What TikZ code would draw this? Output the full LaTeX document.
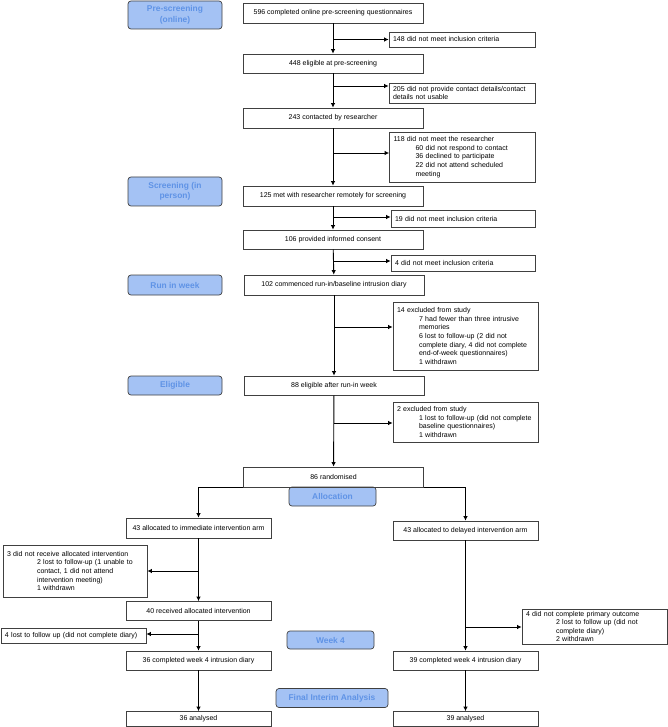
\documentclass[tikz,border=0pt]{standalone}
\usepackage{fontspec}
\setmainfont{Liberation Sans}
\usetikzlibrary{positioning,calc,arrows.meta}
\definecolor{stagefill}{HTML}{A4C2F4}
\definecolor{stagetext}{HTML}{5F93E6}
\definecolor{boxline}{HTML}{404040}
\tikzset{flowbox/.style={draw=boxline,line width=0.7pt,minimum width=180pt,minimum height=20pt,inner sep=0pt,font=\fontsize{7}{8.6}\selectfont}  }
\tikzset{sidebox/.style={draw=boxline,line width=0.7pt,inner xsep=4pt,inner ysep=2pt,align=left,font=\fontsize{7}{8.6}\selectfont}  }
\tikzset{stage/.style={draw=boxline,fill=stagefill,rounded corners=3pt,line width=0.7pt,minimum width=94pt,inner sep=0pt,align=center,text=stagetext,font=\fontsize{8.4}{10.4}\selectfont\bfseries}  }
\tikzset{>={Latex[length=4.5pt,width=4.5pt]}}
\newcommand{\ind}{\hspace*{22pt}}
\newcommand{\indb}{\hspace*{30pt}}

\begin{document}
\begin{tikzpicture}[x=1pt,y=-1pt,line width=0.9pt]
	\useasboundingbox (0,0) rectangle (667,727);

		\node[stage,minimum height=28pt] (pre) at (175,15) {Pre-screening\\(online)};
		\node[stage,minimum height=29pt] (scr) at (175,191.5) {Screening (in\\person)};
		\node[stage,minimum height=20pt] (run) at (175,285) {Run in week};
		\node[stage,minimum height=19pt] (elig) at (175,385.5) {Eligible};
		\node[stage,minimum width=87pt,minimum height=19pt] (alloc) at (332.5,496.5) {Allocation};
		\node[stage,minimum width=87pt,minimum height=18pt] (wk) at (330.5,640) {Week 4};
		\node[stage,minimum width=112pt,minimum height=19pt] (fin) at (332,698) {Final Interim Analysis};

		\node[flowbox] (q596) at (333,13) {596 completed online pre-screening questionnaires};
		\node[flowbox,minimum height=19pt] (e448) at (333,63.5) {448 eligible at pre-screening};
		\node[flowbox] (c243) at (333,118) {243 contacted by researcher};
		\node[flowbox] (m125) at (333,196) {125 met with researcher remotely for screening};
		\node[flowbox,minimum height=19pt] (i106) at (333,239.5) {106 provided informed consent};
		\node[flowbox] (r102) at (334,285) {102 commenced run-in/baseline intrusion diary};
		\node[flowbox,minimum height=19pt] (e88) at (334,385.5) {88 eligible after run-in week};
		\node[flowbox] (r86) at (333.5,477) {86 randomised};

		\node[sidebox,text width=138pt,minimum height=15pt] (x148) at (462,39.5) {148 did not meet inclusion criteria};
		\node[sidebox,text width=138pt,minimum height=20pt] (x205) at (462,93) {205 did not provide contact details/contact\\details not usable};
		\node[sidebox,text width=138pt,minimum height=50pt] (x118) at (462.5,157) {118 did not meet the researcher\\\ind 60 did not respond to contact\\\ind 36 declined to participate\\\ind 22 did not attend scheduled\\\ind meeting};
		\node[sidebox,text width=136pt,minimum height=17pt] (x19) at (463,218.5) {19 did not meet inclusion criteria};
		\node[sidebox,text width=136pt,minimum height=16pt] (x4) at (463,263) {4 did not meet inclusion criteria};
		\node[sidebox,text width=137pt,minimum height=68pt] (x14) at (465.5,336) {14 excluded from study\\\ind 7 had fewer than three intrusive\\\ind memories\\\ind 6 lost to follow-up (2 did not\\\ind complete diary, 4 did not complete\\\ind end-of-week questionnaires)\\\ind 1 withdrawn};
		\node[sidebox,text width=137pt,minimum height=40pt] (x2) at (465.5,422) {2 excluded from study\\\ind 1 lost to follow-up (did not complete\\\ind baseline questionnaires)\\\ind 1 withdrawn};

		\node[flowbox,minimum width=145pt] (a43) at (198.5,528) {43 allocated to immediate intervention arm};
		\node[flowbox,minimum width=145pt,minimum height=19pt] (a40) at (198.5,611) {40 received allocated intervention};
		\node[flowbox,minimum width=145pt,minimum height=19pt] (a36c) at (198.5,660.5) {36 completed week 4 intrusion diary};
		\node[flowbox,minimum width=145pt,minimum height=15pt] (a36) at (198.5,719) {36 analysed};

		\node[flowbox,minimum width=145pt,minimum height=19pt] (b43) at (465.5,530.5) {43 allocated to delayed intervention arm};
		\node[flowbox,minimum width=145pt,minimum height=19pt] (b39c) at (465.5,660.5) {39 completed week 4 intrusion diary};
		\node[flowbox,minimum width=145pt,minimum height=15pt] (b39) at (465.5,719) {39 analysed};

		\node[sidebox,text width=136pt,minimum height=52pt] (y3) at (75,571) {3 did not receive allocated intervention\\\indb 2 lost to follow-up (1 unable to\\\indb contact, 1 did not attend\\\indb intervention meeting)\\\indb 1 withdrawn};
		\node[sidebox,text width=137pt,minimum height=15pt] (y4) at (73.5,635.5) {4 lost to follow up (did not complete diary)};
		\node[sidebox,text width=137pt,minimum height=33pt] (z4) at (594.5,626.5) {4 did not complete primary outcome\\\indb 2 lost to follow up (did not\\\indb complete diary)\\\indb 2 withdrawn};

		\coordinate (j148) at (333,39.5);
		\coordinate (j205) at (333,86);
		\coordinate (j118) at (333,153);
		\coordinate (j19) at (333,217);
		\coordinate (j4) at (333,261);
		\coordinate (j14) at (334,327);
		\coordinate (j2) at (334,423);
		\coordinate (jy3) at (198.5,571);
		\coordinate (jy4) at (198.5,634);
		\coordinate (jz4) at (465.5,627);

		\draw[->] (q596) -- (e448);
		\draw[->] (e448) -- (c243);
		\draw[->] (c243) -- (m125);
		\draw[->] (m125) -- (i106);
		\draw[->] (i106) -- (r102);
		\draw[->] (r102) -- (e88);
		\draw[->] (e88) -- (r86);
		\draw[->] (r86.south west) -| (a43);
		\draw[->] (r86.south east) -| (b43);
		\draw[->] (a43) -- (a40);
		\draw[->] (a40) -- (a36c);
		\draw[->] (a36c) -- (a36);
		\draw[->] (b43) -- (b39c);
		\draw[->] (b39c) -- (b39);

		\draw[->] (j148) -- (j148 -| x148.west);
		\draw[->] (j205) -- (j205 -| x205.west);
		\draw[->] (j118) -- (j118 -| x118.west);
		\draw[->] (j19) -- (j19 -| x19.west);
		\draw[->] (j4) -- (j4 -| x4.west);
		\draw[->] (j14) -- (j14 -| x14.west);
		\draw[->] (j2) -- (j2 -| x2.west);
		\draw[->] (jy3) -- (jy3 -| y3.east);
		\draw[->] (jy4) -- (jy4 -| y4.east);
		\draw[->] (jz4) -- (jz4 -| z4.west);
	\end{tikzpicture}
\end{document}
